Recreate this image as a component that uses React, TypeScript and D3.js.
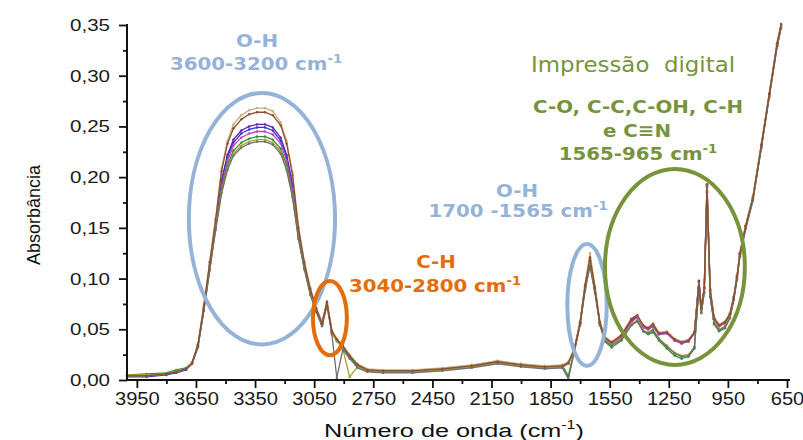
import React, { useEffect, useRef } from 'react'
import * as d3 from 'd3'

// wavenumbers (cm-1), shared by every spectrum
const wavenumbers = [
  4000, 3900, 3800, 3750, 3700, 3670, 3640, 3610, 3580, 3550,
  3520, 3490, 3460, 3420, 3380, 3340, 3300, 3260, 3220, 3190,
  3160, 3130, 3100, 3070, 3040, 3010, 2985, 2960, 2935, 2905,
  2870, 2830, 2780, 2700, 2550, 2400, 2250, 2120, 2000, 1880,
  1790, 1760, 1730, 1700, 1675, 1650, 1625, 1600, 1575, 1540,
  1490, 1440, 1410, 1380, 1355, 1330, 1300, 1260, 1220, 1185,
  1150, 1120, 1097, 1085, 1070, 1056, 1040, 1020, 995, 965,
  940, 920, 904, 889, 860, 823, 780, 740, 700, 680
]

const sampleTan = [
  0.004, 0.004, 0.006, 0.008, 0.011, 0.017, 0.035, 0.074, 0.117, 0.160,
  0.209, 0.236, 0.252, 0.261, 0.266, 0.268, 0.268, 0.265, 0.254, 0.236,
  0.205, 0.152, 0.117, 0.091, 0.072, 0.057, 0.078, 0.049, 0.041, 0.034,
  0.025, 0.016, 0.011, 0.010, 0.010, 0.012, 0.015, 0.019, 0.016, 0.014,
  0.015, 0.018, 0.031, 0.058, 0.095, 0.125, 0.093, 0.058, 0.043, 0.038,
  0.045, 0.061, 0.064, 0.054, 0.052, 0.056, 0.047, 0.048, 0.041, 0.038,
  0.040, 0.048, 0.096, 0.072, 0.092, 0.193, 0.090, 0.062, 0.055, 0.058,
  0.066, 0.083, 0.103, 0.126, 0.153, 0.181, 0.233, 0.283, 0.333, 0.351
]
const sampleBrown = [
  0.004, 0.004, 0.006, 0.008, 0.011, 0.017, 0.035, 0.073, 0.116, 0.158,
  0.206, 0.233, 0.248, 0.257, 0.262, 0.264, 0.264, 0.261, 0.251, 0.233,
  0.202, 0.150, 0.116, 0.090, 0.071, 0.056, 0.077, 0.048, 0.040, 0.034,
  0.024, 0.015, 0.010, 0.009, 0.009, 0.011, 0.014, 0.018, 0.015, 0.013,
  0.014, 0.017, 0.030, 0.057, 0.093, 0.121, 0.091, 0.057, 0.042, 0.037,
  0.044, 0.060, 0.064, 0.054, 0.051, 0.055, 0.046, 0.047, 0.040, 0.037,
  0.039, 0.047, 0.097, 0.071, 0.091, 0.193, 0.089, 0.061, 0.054, 0.057,
  0.065, 0.082, 0.102, 0.125, 0.152, 0.180, 0.232, 0.282, 0.332, 0.351
]
const samplePurple = [
  0.004, 0.004, 0.006, 0.008, 0.011, 0.016, 0.034, 0.071, 0.113, 0.155,
  0.197, 0.222, 0.237, 0.246, 0.250, 0.252, 0.252, 0.249, 0.239, 0.222,
  0.193, 0.146, 0.113, 0.088, 0.070, 0.056, 0.076, 0.048, 0.040, 0.033,
  0.024, 0.015, 0.010, 0.009, 0.009, 0.011, 0.014, 0.018, 0.015, 0.013,
  0.014, 0.017, 0.030, 0.057, 0.092, 0.119, 0.090, 0.057, 0.042, 0.037,
  0.044, 0.059, 0.063, 0.053, 0.051, 0.055, 0.046, 0.047, 0.040, 0.037,
  0.039, 0.047, 0.098, 0.071, 0.091, 0.192, 0.089, 0.061, 0.054, 0.057,
  0.065, 0.082, 0.102, 0.125, 0.152, 0.180, 0.232, 0.282, 0.332, 0.350
]
const sampleBlue = [
  0.003, 0.003, 0.005, 0.007, 0.010, 0.016, 0.033, 0.070, 0.112, 0.153,
  0.195, 0.220, 0.234, 0.243, 0.247, 0.249, 0.249, 0.246, 0.236, 0.220,
  0.190, 0.144, 0.112, 0.087, 0.069, 0.055, 0.075, 0.047, 0.040, 0.033,
  0.023, 0.014, 0.009, 0.008, 0.008, 0.010, 0.013, 0.017, 0.014, 0.012,
  0.013, 0.016, 0.029, 0.056, 0.091, 0.118, 0.090, 0.056, 0.041, 0.036,
  0.043, 0.058, 0.062, 0.052, 0.050, 0.053, 0.045, 0.046, 0.039, 0.036,
  0.038, 0.046, 0.097, 0.070, 0.090, 0.191, 0.088, 0.060, 0.053, 0.056,
  0.064, 0.081, 0.101, 0.124, 0.151, 0.179, 0.231, 0.281, 0.331, 0.350
]
const sampleMagenta = [
  0.004, 0.004, 0.006, 0.008, 0.011, 0.016, 0.033, 0.070, 0.111, 0.152,
  0.191, 0.216, 0.231, 0.239, 0.243, 0.245, 0.245, 0.242, 0.233, 0.216,
  0.187, 0.143, 0.112, 0.087, 0.069, 0.055, 0.075, 0.047, 0.039, 0.033,
  0.023, 0.014, 0.009, 0.008, 0.008, 0.010, 0.013, 0.017, 0.014, 0.012,
  0.013, 0.016, 0.029, 0.056, 0.091, 0.117, 0.089, 0.056, 0.041, 0.036,
  0.043, 0.057, 0.062, 0.052, 0.050, 0.054, 0.045, 0.046, 0.039, 0.036,
  0.038, 0.046, 0.096, 0.070, 0.090, 0.190, 0.087, 0.060, 0.053, 0.056,
  0.064, 0.081, 0.101, 0.124, 0.151, 0.179, 0.231, 0.281, 0.331, 0.349
]
const sampleGreen = [
  0.005, 0.006, 0.007, 0.010, 0.012, 0.017, 0.034, 0.070, 0.110, 0.150,
  0.188, 0.212, 0.226, 0.234, 0.238, 0.240, 0.240, 0.237, 0.228, 0.212,
  0.183, 0.141, 0.111, 0.086, 0.069, 0.055, 0.076, 0.047, 0.039, 0.032,
  0.023, 0.014, 0.010, 0.009, 0.009, 0.011, 0.014, 0.018, 0.015, 0.013,
  0.014, 0.004, 0.029, 0.056, 0.090, 0.114, 0.088, 0.056, 0.038, 0.032,
  0.039, 0.054, 0.058, 0.048, 0.045, 0.047, 0.039, 0.031, 0.024, 0.021,
  0.023, 0.031, 0.091, 0.066, 0.086, 0.186, 0.082, 0.055, 0.048, 0.051,
  0.061, 0.079, 0.099, 0.122, 0.149, 0.177, 0.229, 0.279, 0.329, 0.347
]
const sampleOlive = [
  0.005, 0.005, 0.006, 0.009, 0.011, 0.017, 0.033, 0.069, 0.109, 0.149,
  0.185, 0.209, 0.223, 0.231, 0.235, 0.237, 0.237, 0.234, 0.225, 0.209,
  0.181, 0.140, 0.110, 0.085, 0.068, 0.054, 0.075, 0.046, 0.038, 0.031,
  0.003, 0.013, 0.009, 0.008, 0.008, 0.010, 0.013, 0.017, 0.014, 0.012,
  0.013, 0.016, 0.028, 0.055, 0.089, 0.115, 0.087, 0.055, 0.040, 0.035,
  0.041, 0.055, 0.059, 0.049, 0.047, 0.050, 0.041, 0.034, 0.027, 0.024,
  0.025, 0.033, 0.092, 0.067, 0.087, 0.187, 0.083, 0.057, 0.050, 0.053,
  0.062, 0.080, 0.100, 0.123, 0.150, 0.178, 0.230, 0.280, 0.330, 0.348
]
const sampleGrey = [
  0.004, 0.004, 0.006, 0.008, 0.011, 0.016, 0.032, 0.068, 0.108, 0.148,
  0.184, 0.207, 0.221, 0.229, 0.233, 0.235, 0.235, 0.232, 0.223, 0.207,
  0.180, 0.139, 0.109, 0.084, 0.067, 0.053, 0.073, 0.045, 0.002, 0.030,
  0.021, 0.012, 0.008, 0.007, 0.007, 0.009, 0.012, 0.016, 0.013, 0.011,
  0.012, 0.001, 0.027, 0.054, 0.088, 0.112, 0.086, 0.054, 0.039, 0.034,
  0.040, 0.054, 0.058, 0.048, 0.046, 0.049, 0.040, 0.033, 0.026, 0.023,
  0.024, 0.032, 0.090, 0.066, 0.086, 0.185, 0.082, 0.056, 0.049, 0.052,
  0.061, 0.079, 0.099, 0.122, 0.149, 0.177, 0.229, 0.279, 0.329, 0.347
]

// draw order: the last ones end up on top
const series = [
  { values: samplePurple, color: '#6a1fa8' },
  { values: sampleBlue, color: '#2b39cf' },
  { values: sampleMagenta, color: '#d13bc4' },
  { values: sampleGreen, color: '#2f8f34' },
  { values: sampleOlive, color: '#a3a02c' },
  { values: sampleTan, color: '#c9ab7c' },
  { values: sampleGrey, color: '#6f6f6f' },
  { values: sampleBrown, color: '#8c4f2e' }
]

const xTickLabels = [3950, 3650, 3350, 3050, 2750, 2450, 2150, 1850, 1550, 1250, 950, 650]
const xMinorTicks = [3800, 3500, 3200, 2900, 2600, 2300, 2000, 1700, 1400, 1100, 800]
const yTickLabels = [0, 0.05, 0.1, 0.15, 0.2, 0.25, 0.3, 0.35]
const yMinorTicks = [0.025, 0.075, 0.125, 0.175, 0.225, 0.275, 0.325]

// highlighted bands: centre and half-widths in data units
const bands = [
  { cx: 3315, cy: 0.159, rx: 371, ry: 0.124, color: '#95b3d7' },
  { cx: 2970, cy: 0.061, rx: 86, ry: 0.0365, color: '#e46c0a' },
  { cx: 1665, cy: 0.074, rx: 100, ry: 0.060, color: '#95b3d7' },
  { cx: 1219, cy: 0.1115, rx: 355, ry: 0.0966, color: '#77933c' }
]

const blue = '#95b3d7'
const orange = '#e46c0a'
const green = '#77933c'

const labels = [
  { x: 257, y: 47, text: 'O-H', sup: '', color: blue, bold: true, size: 18 },
  { x: 256, y: 70, text: '3600-3200 cm', sup: '-1', color: blue, bold: true, size: 18 },
  { x: 436, y: 268, text: 'C-H', sup: '', color: orange, bold: true, size: 18 },
  { x: 435, y: 292, text: '3040-2800 cm', sup: '-1', color: orange, bold: true, size: 18 },
  { x: 517, y: 197, text: 'O-H', sup: '', color: blue, bold: true, size: 18 },
  { x: 518, y: 217, text: '1700 -1565 cm', sup: '-1', color: blue, bold: true, size: 18 },
  { x: 633, y: 72, text: 'Impressão  digital', sup: '', color: green, bold: false, size: 22 },
  { x: 638, y: 113, text: 'C-O, C-C,C-OH, C-H', sup: '', color: green, bold: true, size: 18 },
  { x: 637, y: 137, text: 'e C≡N', sup: '', color: green, bold: true, size: 18 },
  { x: 638, y: 160, text: '1565-965 cm', sup: '-1', color: green, bold: true, size: 18 }
]

export default function App () {
  const ref = useRef<SVGSVGElement>(null)

  useEffect(() => {
    const svg = d3.select(ref.current)
    svg.selectAll('*').remove()

    const x = d3.scaleLinear().domain([4000, 650]).range([127, 787])
    const y = d3.scaleLinear().domain([0, 0.35]).range([380, 25])

    // spectra
    const line = d3.line<number>()
      .x((_, i) => x(wavenumbers[i]))
      .y(d => y(d))
    const plot = svg.append('g')
    series.forEach(s => {
      plot.append('path')
        .attr('d', line(s.values))
        .attr('fill', 'none')
        .attr('stroke', s.color)
        .attr('stroke-width', 1.3)
        .attr('stroke-linejoin', 'round')
      plot.append('g').selectAll('circle')
        .data(s.values)
        .enter().append('circle')
        .attr('cx', (_, i) => x(wavenumbers[i]))
        .attr('cy', d => y(d))
        .attr('r', 1.2)
        .attr('fill', s.color)
    })

    // ellipses
    svg.append('g').selectAll('ellipse')
      .data(bands)
      .enter().append('ellipse')
      .attr('cx', d => x(d.cx))
      .attr('cy', d => y(d.cy))
      .attr('rx', d => Math.abs(x(d.cx + d.rx) - x(d.cx)))
      .attr('ry', d => Math.abs(y(d.cy + d.ry) - y(d.cy)))
      .attr('fill', 'none')
      .attr('stroke', d => d.color)
      .attr('stroke-width', 4)

    // axes
    const xAxis = svg.append('g')
      .attr('transform', 'translate(0,380)')
      .call(d3.axisBottom(x).tickValues(xTickLabels).tickSize(8).tickSizeOuter(0).tickPadding(4)
        .tickFormat(d => String(d)))
    svg.append('g')
      .attr('transform', 'translate(0,380)')
      .call(d3.axisBottom(x).tickValues(xMinorTicks).tickSize(4).tickSizeOuter(0).tickFormat(() => ''))
    const yAxis = svg.append('g')
      .attr('transform', 'translate(127,0)')
      .call(d3.axisLeft(y).tickValues(yTickLabels).tickSize(8).tickSizeOuter(0).tickPadding(9)
        .tickFormat(d => (+d).toFixed(2).replace('.', ',')))
    svg.append('g')
      .attr('transform', 'translate(127,0)')
      .call(d3.axisLeft(y).tickValues(yMinorTicks).tickSize(4).tickSizeOuter(0).tickFormat(() => ''))

    svg.selectAll('.domain').remove()
    svg.selectAll('.tick line').attr('stroke', '#111').attr('stroke-width', 1.8)
    svg.append('line').attr('x1', 126).attr('x2', 790).attr('y1', 380).attr('y2', 380)
      .attr('stroke', '#111').attr('stroke-width', 2)
    svg.append('line').attr('x1', 127).attr('x2', 127).attr('y1', 24).attr('y2', 381)
      .attr('stroke', '#111').attr('stroke-width', 2)

    xAxis.selectAll('text')
      .attr('font-family', 'Liberation Sans, Arial, sans-serif')
      .attr('font-size', 18)
      .attr('fill', '#1a1a1a')
      .attr('textLength', d => String(d).length * 11.2)
      .attr('lengthAdjust', 'spacingAndGlyphs')
    yAxis.selectAll('text')
      .attr('font-family', 'Liberation Sans, Arial, sans-serif')
      .attr('font-size', 17)
      .attr('fill', '#1a1a1a')
      .attr('textLength', 40)
      .attr('lengthAdjust', 'spacingAndGlyphs')

    // axis titles
    svg.append('text')
      .attr('transform', 'translate(40,215) rotate(-90)')
      .attr('text-anchor', 'middle')
      .attr('font-family', 'Liberation Sans, Arial, sans-serif')
      .attr('font-size', 18)
      .attr('fill', '#111')
      .text('Absorbância')

    const xt = svg.append('g').attr('transform', 'translate(454,437) scale(1.33,1)')
      .append('text')
      .attr('text-anchor', 'middle')
      .attr('font-family', 'Liberation Sans, Arial, sans-serif')
      .attr('font-size', 19)
      .attr('fill', '#111')
    xt.append('tspan').text('Número de onda (cm')
    xt.append('tspan').attr('font-size', 12).attr('dy', -8).text('-1')
    xt.append('tspan').attr('dy', 8).text(')')

    // annotations
    labels.forEach(l => {
      const t = svg.append('g')
        .attr('transform', `translate(${l.x},${l.y}) scale(${l.bold ? 1.1 : 1.04},1)`)
        .append('text')
        .attr('text-anchor', 'middle')
        .attr('font-family', 'DejaVu Sans, Verdana, sans-serif')
        .attr('font-weight', l.bold ? 'bold' : 'normal')
        .attr('font-size', l.size)
        .attr('fill', l.color)
        .style('white-space', 'pre')
      t.append('tspan').text(l.text)
      if (l.sup) t.append('tspan').attr('font-size', 12).attr('dy', -7).text(l.sup)
    })
  }, [])

  return (
    <div style={{ position: 'absolute', left: 0, top: 0 }}>
      <svg ref={ref} width={803} height={440} style={{ display: 'block', background: '#fff' }} />
    </div>
  )
}
